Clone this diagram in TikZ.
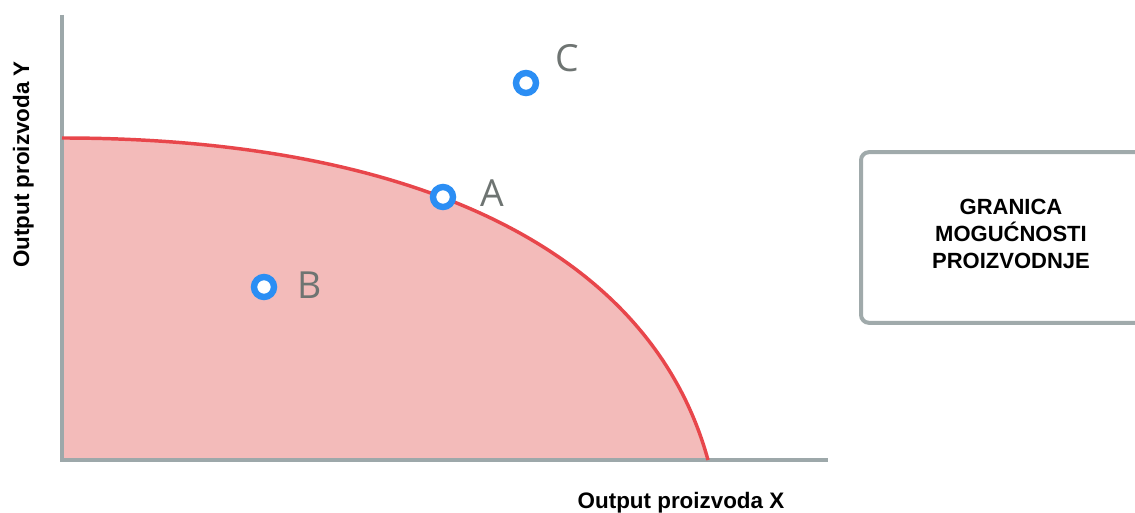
\documentclass[tikz,border=0pt]{standalone}
\usepackage{fontspec}
\setmainfont{Liberation Sans}
\newfontfamily\letterfont{Open Sans}
\definecolor{axisgray}{HTML}{9DA8AA}
\definecolor{pinkfill}{HTML}{F3BBBA}
\definecolor{curvered}{HTML}{E8464B}
\definecolor{dotblue}{HTML}{2B8EF4}
\definecolor{lettergray}{HTML}{6E7472}
\definecolor{boxgray}{HTML}{A0AAAB}
\tikzset{
  axisline/.style={draw=axisgray, line width=3pt},
  ppf/.style={draw=curvered, line width=2.6pt},
  dot/.style={circle, draw=dotblue, fill=white, line width=4.8pt, minimum size=15pt, inner sep=0pt},
  letter/.style={font=\letterfont\fontsize{28}{30}\selectfont, text=lettergray, inner sep=0pt},
  axislabel/.style={font=\bfseries\fontsize{16.8}{20}\selectfont, inner sep=0pt},
  infobox/.style={draw=boxgray, line width=3pt, rounded corners=6pt, minimum width=225pt, minimum height=128pt, inner sep=0pt},
  boxtext/.style={font=\bfseries\fontsize{16.5}{20.25}\selectfont, align=center, inner sep=0pt}
}
\begin{document}
\begin{tikzpicture}[x=0.75pt, y=-0.75pt]
\clip (0,0) rectangle (1135,513);
\fill[white] (0,0) rectangle (1135,513);
% coordinates
\coordinate (O) at (62,460);
\coordinate (ytop) at (62,15);
\coordinate (ybot) at (62,462);
\coordinate (xend) at (828,460);
\coordinate (ystart) at (62,138);
\coordinate (xstart) at (708,460);
% region
\fill[pinkfill] (O) -- (ystart) .. controls (392,138) and (647,238) .. (xstart) -- cycle;
% axes
\draw[axisline] (ytop) -- (ybot);
\draw[axisline] (O) -- (xend);
% frontier
\draw[ppf] (ystart) .. controls (392,138) and (647,238) .. (xstart);
% points
\node[dot] (A) at (443,197) {};
\node[dot] (B) at (264,287) {};
\node[dot] (C) at (526,83) {};
\node[letter] (lA) at (492,193) {A};
\node[letter] (lB) at (310,285) {B};
\node[letter] (lC) at (567,58) {C};
% axis labels
\node[axislabel, anchor=base] (xlab) at (681,508) {Output proizvoda X};
\node[axislabel, anchor=base, rotate=90] (ylab) at (29,164.5) {Output proizvoda Y};
% box
\node[infobox] (box) at (1011,237.5) {};
\node[boxtext] (boxt) at (1011,234) {GRANICA\\MOGUĆNOSTI\\PROIZVODNJE};
\end{tikzpicture}
\end{document}
